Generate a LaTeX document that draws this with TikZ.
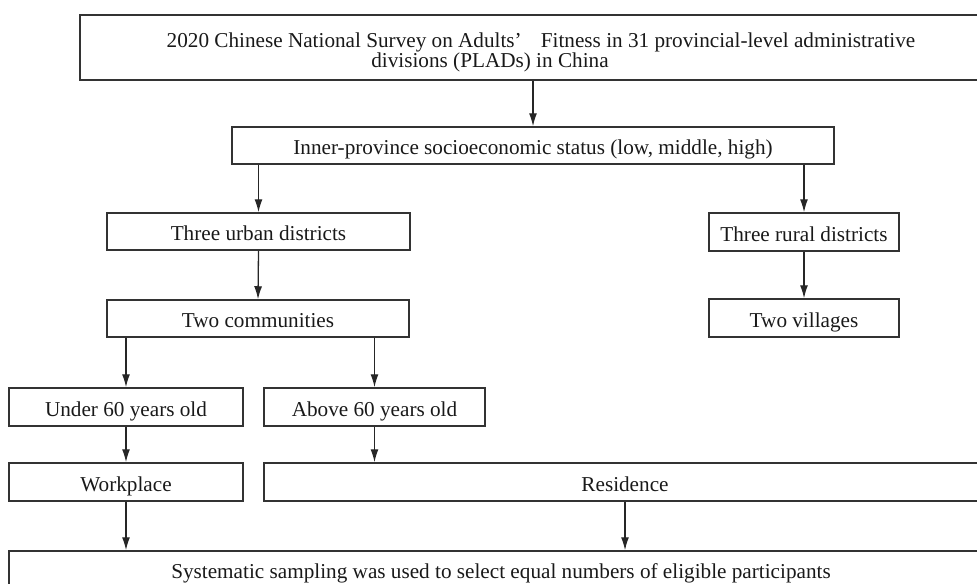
\documentclass[tikz,border=0pt]{standalone}
\usepackage{fontspec}
\setmainfont{Liberation Serif}
\usetikzlibrary{arrows.meta}
\begin{document}
\begin{tikzpicture}[x=0.5pt,y=-0.5pt,
  box/.style={draw=black!80, line width=0.75pt, inner sep=0pt, align=center,
    text height=9pt, text depth=0pt,
    font=\fontsize{10.6}{12.7}\selectfont, text=black!90},
  txt/.style={inner sep=0pt, anchor=base, font=\fontsize{10.6}{12.7}\selectfont, text=black!90},
  arr/.style={draw=black!85, line width=0.65pt, -{Latex[length=6.5pt,width=4pt]}}]
\useasboundingbox (0,0) rectangle (977,583);
\clip (0,0) rectangle (977,583);
% boxes
\node[box, minimum width=461pt, minimum height=32.5pt] (top) at (541,47.5) {};
\node[txt] (t1) at (541,47) {2020 Chinese National Survey on Adults’\hspace{0.9em}Fitness in 31 provincial-level administrative};
\node[txt] (t2) at (490,68) {divisions (PLADs) in China};
\node[box, minimum width=301pt, minimum height=18.5pt] (inner) at (533,145.5) {Inner-province socioeconomic status (low, middle, high)};
\node[box, minimum width=151.5pt, minimum height=18.5pt] (urban) at (258.5,231.5) {Three urban districts};
\node[box, minimum width=95pt, minimum height=19pt] (rural) at (804,232) {Three rural districts};
\node[box, minimum width=151pt, minimum height=18.5pt] (comm) at (258,318.5) {Two communities};
\node[box, minimum width=95pt, minimum height=19pt] (vill) at (804,318) {Two villages};
\node[box, minimum width=117pt, minimum height=19pt] (under) at (126,407) {Under 60 years old};
\node[box, minimum width=110.5pt, minimum height=19pt] (above) at (374.5,407) {Above 60 years old};
\node[box, minimum width=117pt, minimum height=19pt] (work) at (126,482) {Workplace};
\node[box, minimum width=361pt, minimum height=19pt] (resid) at (625,482) {Residence};
\node[box, minimum width=492pt, minimum height=18pt] (bottom) at (501,569) {Systematic sampling was used to select equal numbers of eligible participants};
% connectors
\draw[arr] (inner.north |- top.south) -- (inner.north);
\draw[arr] (urban.north |- inner.south) -- (urban.north);
\draw[arr] (rural.north |- inner.south) -- (rural.north);
\draw[arr] (urban.south) -- (comm.north);
\draw[arr] (rural.south) -- (vill.north);
\draw[arr] (under.north |- comm.south) -- (under.north);
\draw[arr] (above.north |- comm.south) -- (above.north);
\draw[arr] (under.south) -- (work.north);
\draw[arr] (above.south) -- (above.south |- resid.north);
\draw[arr] (work.south) -- (work.south |- bottom.north);
\draw[arr] (resid.south) -- (resid.south |- bottom.north);
\end{tikzpicture}
\end{document}
